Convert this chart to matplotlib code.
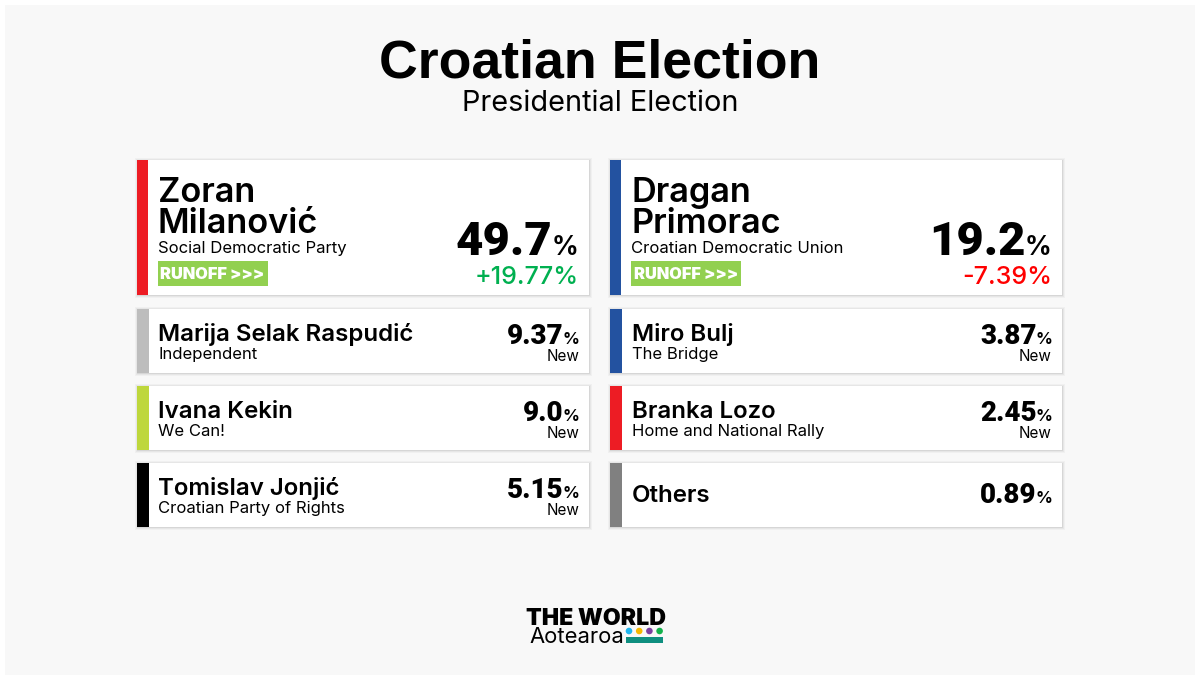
import matplotlib
matplotlib.use("Agg")
import matplotlib.pyplot as plt
from matplotlib.patches import Rectangle, Circle

plt.rcParams['font.family'] = ['Inter', 'DejaVu Sans']

# --- Data ---
top_names = ["Zoran\nMilanović", "Dragan\nPrimorac"]
top_parties = ["Social Democratic Party", "Croatian Democratic Union"]
top_pcts = ["49.7", "19.2"]
top_changes = ["+19.77%", "-7.39%"]
top_change_colors = ["#00b050", "#ff0000"]
top_colors = ["#ed1c24", "#2352a0"]

left_names = ["Marija Selak Raspudić", "Ivana Kekin", "Tomislav Jonjić"]
left_parties = ["Independent", "We Can!", "Croatian Party of Rights"]
left_pcts = ["9.37", "9.0", "5.15"]
left_colors = ["#bdbdbd", "#bed73c", "#000000"]

right_names = ["Miro Bulj", "Branka Lozo", "Others"]
right_parties = ["The Bridge", "Home and National Rally", ""]
right_pcts = ["3.87", "2.45", "0.89"]
right_notes = ["New", "New", ""]
right_colors = ["#2352a0", "#ed1c24", "#808080"]

logo_dots = ["#1fb6f0", "#f5b800", "#7b3fa0", "#12b24b"]

fig = plt.figure(figsize=(12, 6.8), dpi=100, facecolor="white")
ax = fig.add_axes([0, 0, 1, 1])
ax.set_xlim(0, 1200)
ax.set_ylim(680, 0)
ax.axis("off")
ax.add_patch(Rectangle((5, 5), 1190, 670, fc="#f8f8f8", ec="none", zorder=0))

renderer = fig.canvas.get_renderer()


def pct_text(right, base, num, big, small):
    # number and a smaller % sign, right aligned together
    t = ax.text(right, base, "%", fontsize=small, fontweight="bold", ha="right", va="baseline", zorder=5)
    w = t.get_window_extent(renderer).width
    ax.text(right - w + 1.5, base, num, fontsize=big, family="Roboto", fontweight="black",
            ha="right", va="baseline", zorder=5)


def card(x, y, w, h, bar_w, color):
    # soft shadow, stronger on the bottom and right
    for off, col in [(3, "#f0f0f0"), (2, "#e6e6e6"), (1, "#d6d6d6")]:
        ax.add_patch(Rectangle((x - off + 1, y - off + 1), w + 2 * off - 1, h + 2 * off - 1, fc=col, ec="none", zorder=1))
    ax.add_patch(Rectangle((x, y), w, h, fc="white", ec="none", zorder=2))
    ax.add_patch(Rectangle((x, y), bar_w, h, fc=color, ec="none", zorder=3))


# --- Title ---
ax.text(600, 78, "Croatian Election", fontsize=38.6, family="Liberation Sans", fontweight="bold",
        ha="center", va="baseline", color="black")
ax.text(600, 111, "Presidential Election", fontsize=20.8, ha="center", va="baseline", color="black")

# --- Top cards ---
for i, x in enumerate([137, 610]):
    card(x, 160, 452, 135, 11, top_colors[i])
    first, second = top_names[i].split("\n")
    ax.text(x + 21, 202, first, fontsize=24.7, fontweight="semibold", va="baseline", zorder=5)
    ax.text(x + 21, 233, second, fontsize=24.7, fontweight="semibold", va="baseline", zorder=5)
    ax.text(x + 21, 253, top_parties[i], fontsize=12, va="baseline", zorder=5)
    ax.add_patch(Rectangle((x + 21, 261), 110, 25, fc="#92d050", ec="none", zorder=4))
    ax.text(x + 23.5, 279, "RUNOFF >>>", fontsize=11.8, fontweight="black", color="white", va="baseline", zorder=5)
    pct_text(x + 441, 255, top_pcts[i], 34, 19)
    ax.text(x + 442, 284, top_changes[i], fontsize=18, color=top_change_colors[i], fontweight="medium",
            ha="right", va="baseline", zorder=5)

# --- Smaller cards ---
ys = [309, 386, 463]
for i, y in enumerate(ys):
    card(137, y, 452, 64, 12, left_colors[i])
    ax.text(158, y + 32, left_names[i], fontsize=17.3, fontweight="semibold", va="baseline", zorder=5)
    ax.text(158, y + 50, left_parties[i], fontsize=12, va="baseline", zorder=5)
    pct_text(579, y + 35, left_pcts[i], 20, 12)
    ax.text(579, y + 52, "New", fontsize=11, ha="right", va="baseline", zorder=5)

    card(610, y, 452, 64, 12, right_colors[i])
    if right_parties[i]:
        ax.text(632, y + 32, right_names[i], fontsize=17.3, fontweight="semibold", va="baseline", zorder=5)
        ax.text(632, y + 50, right_parties[i], fontsize=12, va="baseline", zorder=5)
        pct_text(1052, y + 35, right_pcts[i], 20, 12)
        ax.text(1052, y + 52, right_notes[i], fontsize=11, ha="right", va="baseline", zorder=5)
    else:
        ax.text(632, y + 39, right_names[i], fontsize=17.3, fontweight="semibold", va="baseline", zorder=5)
        pct_text(1052, y + 40, right_pcts[i], 20, 12)

# --- Logo ---
ax.text(596.5, 625, "THE WORLD", fontsize=16.6, fontweight="black", ha="center", va="baseline", zorder=5)
ax.text(529, 643, "Aotearoa", fontsize=15.8, ha="left", va="baseline", zorder=5)
for i, c in enumerate(logo_dots):
    ax.add_patch(Circle((629 + i * 10.2, 631), 3.3, fc=c, ec="none", zorder=5))
ax.add_patch(Rectangle((626, 637), 37, 6, fc="#0f8f80", ec="none", zorder=5))

fig.savefig("out.png", dpi=100, facecolor="white")
